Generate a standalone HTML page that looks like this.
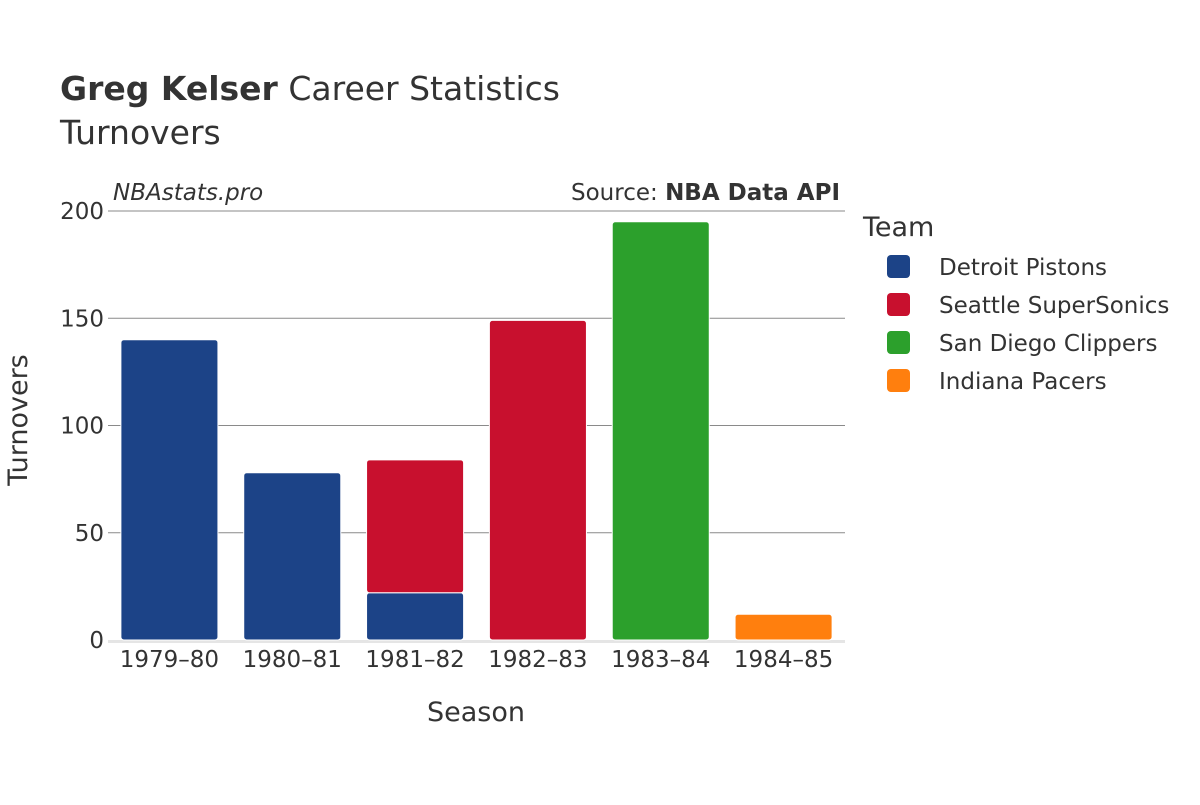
<!DOCTYPE html>
<html><head><meta charset="utf-8"><style>
body{margin:0;background:#fff;}
svg text{font-family:"DejaVu Sans","Liberation Sans",sans-serif;fill:#333;}
</style></head><body>
<svg id="chart" width="1200" height="800" xmlns="http://www.w3.org/2000/svg">
<text x="60" y="100" font-size="33"><tspan font-weight="bold">Greg Kelser</tspan> Career Statistics</text>
<text x="60" y="144" font-size="33">Turnovers</text>
<text x="113" y="200" font-size="23" font-style="italic">NBAstats.pro</text>
<text x="840" y="200" font-size="23" text-anchor="end">Source: <tspan font-weight="bold">NBA Data API</tspan></text>
<g id="grid"></g>
<g id="bars"></g>
<g id="xticks"></g>
<text x="476" y="721" font-size="27" text-anchor="middle">Season</text>
<text transform="translate(27,420) rotate(-90)" font-size="27" text-anchor="middle">Turnovers</text>
<text x="863" y="236" font-size="27">Team</text>
<g id="legend"></g>
</svg>
<script>
const seasons=["1979–80","1980–81","1981–82","1982–83","1983–84","1984–85"];
const teams=["Detroit Pistons","Seattle SuperSonics","San Diego Clippers","Indiana Pacers"];
const colors=["#1c4387","#c8102e","#2ca02c","#ff7f0e"];
const detroit=[140,78,22,0,0,0];
const seattle=[0,0,62,149,0,0];
const sandiego=[0,0,0,0,195,0];
const indiana=[0,0,0,0,0,12];
const yTicks=[0,50,100,150,200];
const series=[detroit,seattle,sandiego,indiana];
const NS="http://www.w3.org/2000/svg";
const x0=108,x1=845,y0=640,y1=211,yMax=200;
const y=v=>y0-(v/yMax)*(y0-y1);
const band=(x1-x0)/seasons.length;
const xc=i=>x0+band*(i+0.5);
const bw=band*0.79;
function mk(t,a,p){const e=document.createElementNS(NS,t);for(const k in a)e.setAttribute(k,a[k]);p.appendChild(e);return e;}
const grid=document.getElementById('grid');
yTicks.forEach(t=>{
  if(t>0){const l=mk('line',{x1:x0,x2:x1,y1:y(t),y2:y(t),stroke:'#8a8a8a','stroke-width':1},grid);
  
  }
  const tx=mk('text',{x:x0-4,y:y(t)+8,'font-size':23,'text-anchor':'end'},grid);
  tx.textContent=t;
  
  
});
const base=mk('line',{x1:x0,x2:x1,y1:y0+1.5,y2:y0+1.5,stroke:'#e5e5e5','stroke-width':3},grid);


const bars=document.getElementById('bars');
seasons.forEach((s,i)=>{
  let cum=0;
  series.forEach((arr,k)=>{
    const v=arr[i]; if(!v)return;
    const top=y(cum+v),bot=y(cum);
    const r=mk('rect',{x:xc(i)-bw/2,y:top,width:bw,height:bot-top,rx:3,fill:colors[k],stroke:'#fff','stroke-width':1},bars);
    
    
    cum+=v;
  });
  const tx=mk('text',{x:xc(i),y:667,'font-size':23,'text-anchor':'middle'},document.getElementById('xticks'));
  tx.textContent=s;
  
  
});
const lg=document.getElementById('legend');
teams.forEach((t,k)=>{
  const yy=266+k*38;
  const r=mk('rect',{x:887,y:yy-11,width:23,height:23,rx:4,fill:colors[k]},lg);
  
  
  const tx=mk('text',{x:939,y:yy+9,'font-size':23},lg);
  tx.textContent=t;
  
  
});
</script>
</body></html>
